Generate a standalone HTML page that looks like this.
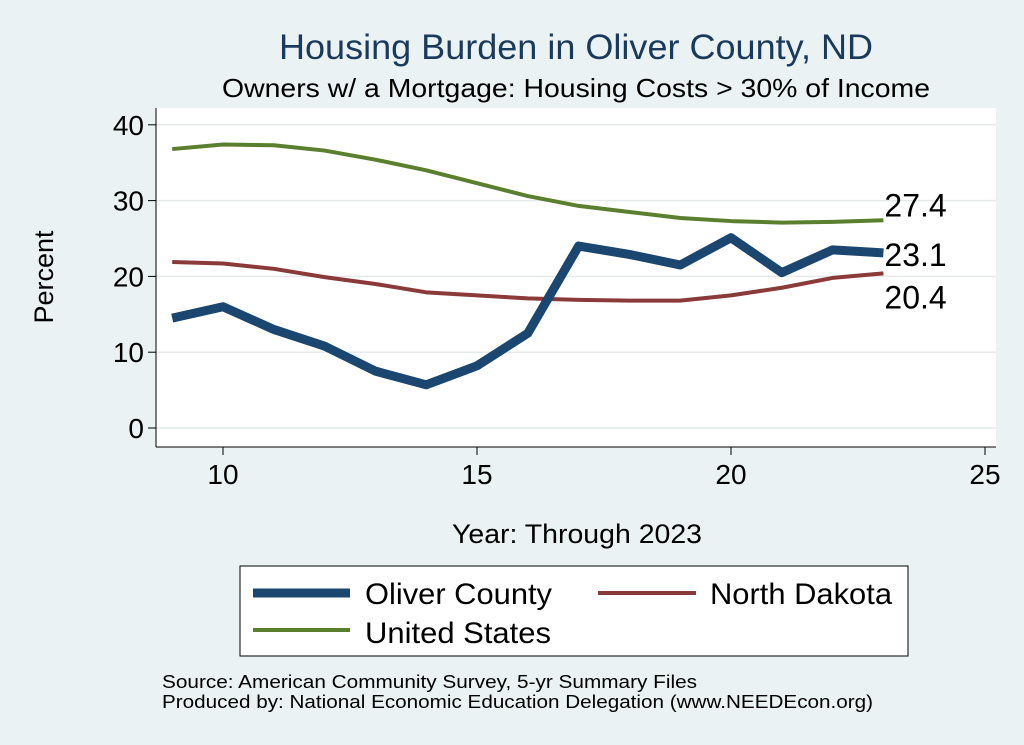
<!DOCTYPE html>
<html><head><meta charset="utf-8"><style>
body{margin:0;background:#eaf2f3;}
svg{display:block;font-family:"Liberation Sans",Arial,sans-serif;}
</style></head><body>
<svg width="1024" height="745" viewBox="0 0 1024 745" xmlns="http://www.w3.org/2000/svg">
<rect x="0" y="0" width="1024" height="745" fill="#eaf2f3"/>
<text x="576" y="59" font-size="35" fill="#1a3a5c" text-anchor="middle" textLength="594" lengthAdjust="spacingAndGlyphs">Housing Burden in Oliver County, ND</text>
<text x="576" y="97" font-size="26" fill="#000" text-anchor="middle" textLength="708" lengthAdjust="spacingAndGlyphs">Owners w/ a Mortgage: Housing Costs &gt; 30% of Income</text>
<rect x="156" y="108" width="840" height="339" fill="#fff"/>
<g id="grid"></g>
<line x1="156" y1="108" x2="156" y2="447" stroke="#000" stroke-width="1"/>
<line x1="156" y1="447" x2="996" y2="447" stroke="#000" stroke-width="1"/>
<g id="yticks"></g>
<g id="xticks"></g>
<text x="53" y="277" font-size="27" text-anchor="middle" transform="rotate(-90 53 277)">Percent</text>
<text x="577" y="543" font-size="27" text-anchor="middle" textLength="250" lengthAdjust="spacingAndGlyphs">Year: Through 2023</text>
<g id="series"></g>
<g>
<rect x="240" y="566" width="668" height="90" fill="#fff" stroke="#000" stroke-width="1"/>
<line x1="253" y1="593" x2="350" y2="593" stroke="#1a4670" stroke-width="9"/>
<text x="365" y="604" font-size="30" textLength="187" lengthAdjust="spacingAndGlyphs">Oliver County</text>
<line x1="598" y1="593" x2="696" y2="593" stroke="#8b3a3a" stroke-width="4"/>
<text x="710" y="604" font-size="30" textLength="182" lengthAdjust="spacingAndGlyphs">North Dakota</text>
<line x1="253" y1="630" x2="350" y2="630" stroke="#5a7f2e" stroke-width="4"/>
<text x="365" y="643" font-size="30" textLength="186" lengthAdjust="spacingAndGlyphs">United States</text>
</g>
<text x="162" y="688" font-size="18" textLength="535" lengthAdjust="spacingAndGlyphs">Source: American Community Survey, 5-yr Summary Files</text>
<text x="162" y="708" font-size="18" textLength="711" lengthAdjust="spacingAndGlyphs">Produced by: National Economic Education Delegation (www.NEEDEcon.org)</text>
</svg>
<script>
const years=[9,10,11,12,13,14,15,16,17,18,19,20,21,22,23];
const oliver=[14.5,16,13,10.8,7.5,5.7,8.2,12.5,24,22.9,21.5,25.1,20.5,23.5,23.1];
const nd=[21.9,21.7,21,19.9,19,17.9,17.5,17.1,16.9,16.8,16.8,17.5,18.5,19.8,20.4];
const us=[36.8,37.4,37.3,36.6,35.4,34,32.3,30.6,29.3,28.5,27.7,27.3,27.1,27.2,27.4];
const yTicks=[0,10,20,30,40];
const xTicks=[10,15,20,25];
const NS="http://www.w3.org/2000/svg";
function xs(v){return 223+(v-10)*50.8;}
function ys(v){return 428-v*7.58;}
function mk(tag,attrs,parent,text){const e=document.createElementNS(NS,tag);for(const k in attrs)e.setAttribute(k,attrs[k]);if(text!==undefined)e.textContent=text;document.getElementById(parent).appendChild(e);return e;}
yTicks.forEach(t=>{
 const g=mk('line',{x1:156,x2:996,y1:ys(t),y2:ys(t),stroke:'#e6eaea','stroke-width':1.5},'grid');
 
 
 const l=mk('line',{x1:148,x2:156,y1:ys(t),y2:ys(t),stroke:'#000'},'yticks');
 
 
 const tx=mk('text',{x:144,y:ys(t)+10,'font-size':28,'text-anchor':'end'},'yticks',String(t));
 
 
});
xTicks.forEach(t=>{
 const l=mk('line',{x1:xs(t),x2:xs(t),y1:447,y2:455,stroke:'#000'},'xticks');
 
 
 const tx=mk('text',{x:xs(t),y:484,'font-size':28,'text-anchor':'middle'},'xticks',String(t));
 
 
});
function line(vals,color,w,name){
 const d=vals.map((v,i)=>(i?'L':'M')+xs(years[i])+','+ys(v)).join(' ');
 const p=mk('path',{d:d,fill:'none',stroke:color,'stroke-width':w,'stroke-linejoin':'round'},'series');
 
 
}
line(us,'#5a7f2e',4,'line-united-states');
line(nd,'#8b3a3a',4,'line-north-dakota');
line(oliver,'#1a4670',9,'line-oliver-county');
const n=years.length-1;
const labels=[[us[n],ys(us[n])-4,'label-us-last'],[oliver[n],ys(oliver[n])+13,'label-oliver-last'],[nd[n],ys(nd[n])+35,'label-nd-last']];
labels.forEach(([v,y,nm])=>{
 const t=mk('text',{x:xs(years[n])+1,y:y,'font-size':32},'series',v.toFixed(1));
 
 
});
</script>
</body></html>
